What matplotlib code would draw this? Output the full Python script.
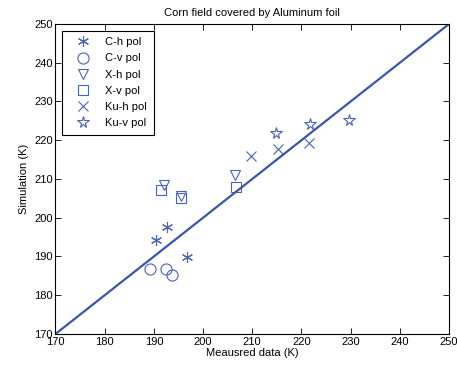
import numpy as np
import matplotlib
matplotlib.use('Agg')
import matplotlib.pyplot as plt

# measured (x) and simulated (y) brightness temperatures, K
ch_x = [190.4, 192.6, 196.8]
ch_y = [194.3, 197.5, 189.9]
cv_x = [189.2, 192.5, 193.7]
cv_y = [186.7, 186.7, 185.1]
xh_x = [192.1, 195.5, 206.4]
xh_y = [208.5, 205.6, 211.0]
xv_x = [191.4, 195.5, 206.6]
xv_y = [207.2, 205.0, 208.0]
kuh_x = [209.8, 215.3, 221.5]
kuh_y = [216.0, 217.7, 219.3]
kuv_x = [214.9, 221.7, 229.6]
kuv_y = [221.9, 224.1, 225.2]
line_ends = [170, 250]

plt.rcParams['font.family'] = ['Liberation Sans', 'DejaVu Sans']
plt.rcParams['font.size'] = 8

fig = plt.figure(figsize=(4.57, 3.72), dpi=100)
ax = fig.add_axes([0.1214, 0.1022, 0.8611, 0.8333])

mc = '#4a62b8'
kw = dict(linestyle='none', color=mc, markerfacecolor='none', markeredgewidth=0.8)
ax.plot(ch_x, ch_y, marker=(6, 2, 0), markersize=8, label='C-h pol', **kw)
ax.plot(cv_x, cv_y, marker='o', markersize=8, label='C-v pol', **kw)
ax.plot(xh_x, xh_y, marker='v', markersize=7.5, label='X-h pol', **kw)
ax.plot(xv_x, xv_y, marker='s', markersize=6.5, label='X-v pol', **kw)
ax.plot(kuh_x, kuh_y, marker='x', markersize=6.5, label='Ku-h pol', **kw)
ax.plot(kuv_x, kuv_y, marker='*', markersize=8.5, label='Ku-v pol', **kw)
ax.plot(line_ends, line_ends, '-', color='#3a56a8', linewidth=1.6)

ax.set_xlim(170, 250)
ax.set_ylim(170, 250)
ax.set_xticks(np.arange(170, 251, 10))
ax.set_yticks(np.arange(170, 251, 10))
ax.tick_params(direction='in', top=True, right=True, length=4, width=0.6, pad=2)
for s in ax.spines.values():
    s.set_linewidth(0.8)
ax.set_xlabel('Meausred data (K)', labelpad=1)
ax.set_ylabel('Simulation (K)', labelpad=4)
ax.set_title('Corn field covered by Aluminum foil', fontsize=8, pad=6)

leg = ax.legend(loc='upper left', fancybox=False, edgecolor='black', framealpha=1,
                borderaxespad=0.6, handlelength=2.5, labelspacing=0.55, borderpad=0.6)
leg.get_frame().set_linewidth(0.8)

fig.savefig('out.png', dpi=100)
